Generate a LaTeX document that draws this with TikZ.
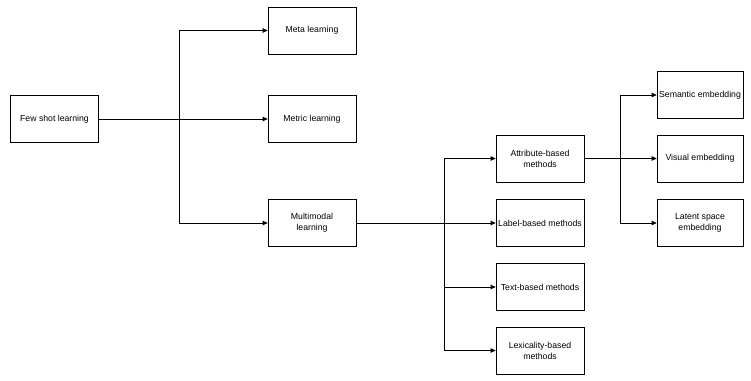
\documentclass[tikz,border=0pt]{standalone}
\usepackage{fontspec}
\setmainfont{Liberation Sans}
\usetikzlibrary{arrows.meta}

\begin{document}
\begin{tikzpicture}[x=1pt, y=-1pt,
    box/.style={draw, line width=0.7pt, minimum width=88pt, minimum height=47pt,
      align=center, inner sep=1pt, font=\fontsize{8.7}{11}\selectfont},
    arr/.style={-{Triangle[length=5pt,width=4.5pt]}, line width=0.7pt}]
  \useasboundingbox (0,0) rectangle (751,380);

  \node[box] (few)    at (54.5,119) {Few shot learning};
  \node[box] (meta)   at (312,30.5) {Meta learning};
  \node[box] (metric) at (312,119)  {Metric learning};
  \node[box] (multi)  at (312,223)  {Multimodal\\learning};

  \node[box] (attr)  at (540,158.5) {Attribute-based\\methods};
  \node[box] (label) at (540,223)   {Label-based methods};
  \node[box] (text)  at (540,287)   {Text-based methods};
  \node[box] (lex)   at (540,350.5) {Lexicality-based\\methods};

  \node[box, minimum width=86pt] (sem) at (700,95)    {Semantic embedding};
  \node[box, minimum width=86pt] (vis) at (700,158.5) {Visual embedding};
  \node[box, minimum width=86pt] (lat) at (700,223)   {Latent space\\embedding};

  \coordinate (b1) at (179,119);
  \coordinate (b2) at (444,223);
  \coordinate (b3) at (620,158.5);

  % first level
  \draw[arr] (few) -- (metric);
  \draw[arr] (b1) |- (meta);
  \draw[arr] (b1) |- (multi);

  % methods
  \draw[arr] (multi) -- (label);
  \draw[arr] (b2) |- (attr);
  \draw[arr] (b2) |- (text);
  \draw[arr] (b2) |- (lex);

  % embeddings
  \draw[arr] (attr) -- (vis);
  \draw[arr] (b3) |- (sem);
  \draw[arr] (b3) |- (lat);
\end{tikzpicture}
\end{document}
